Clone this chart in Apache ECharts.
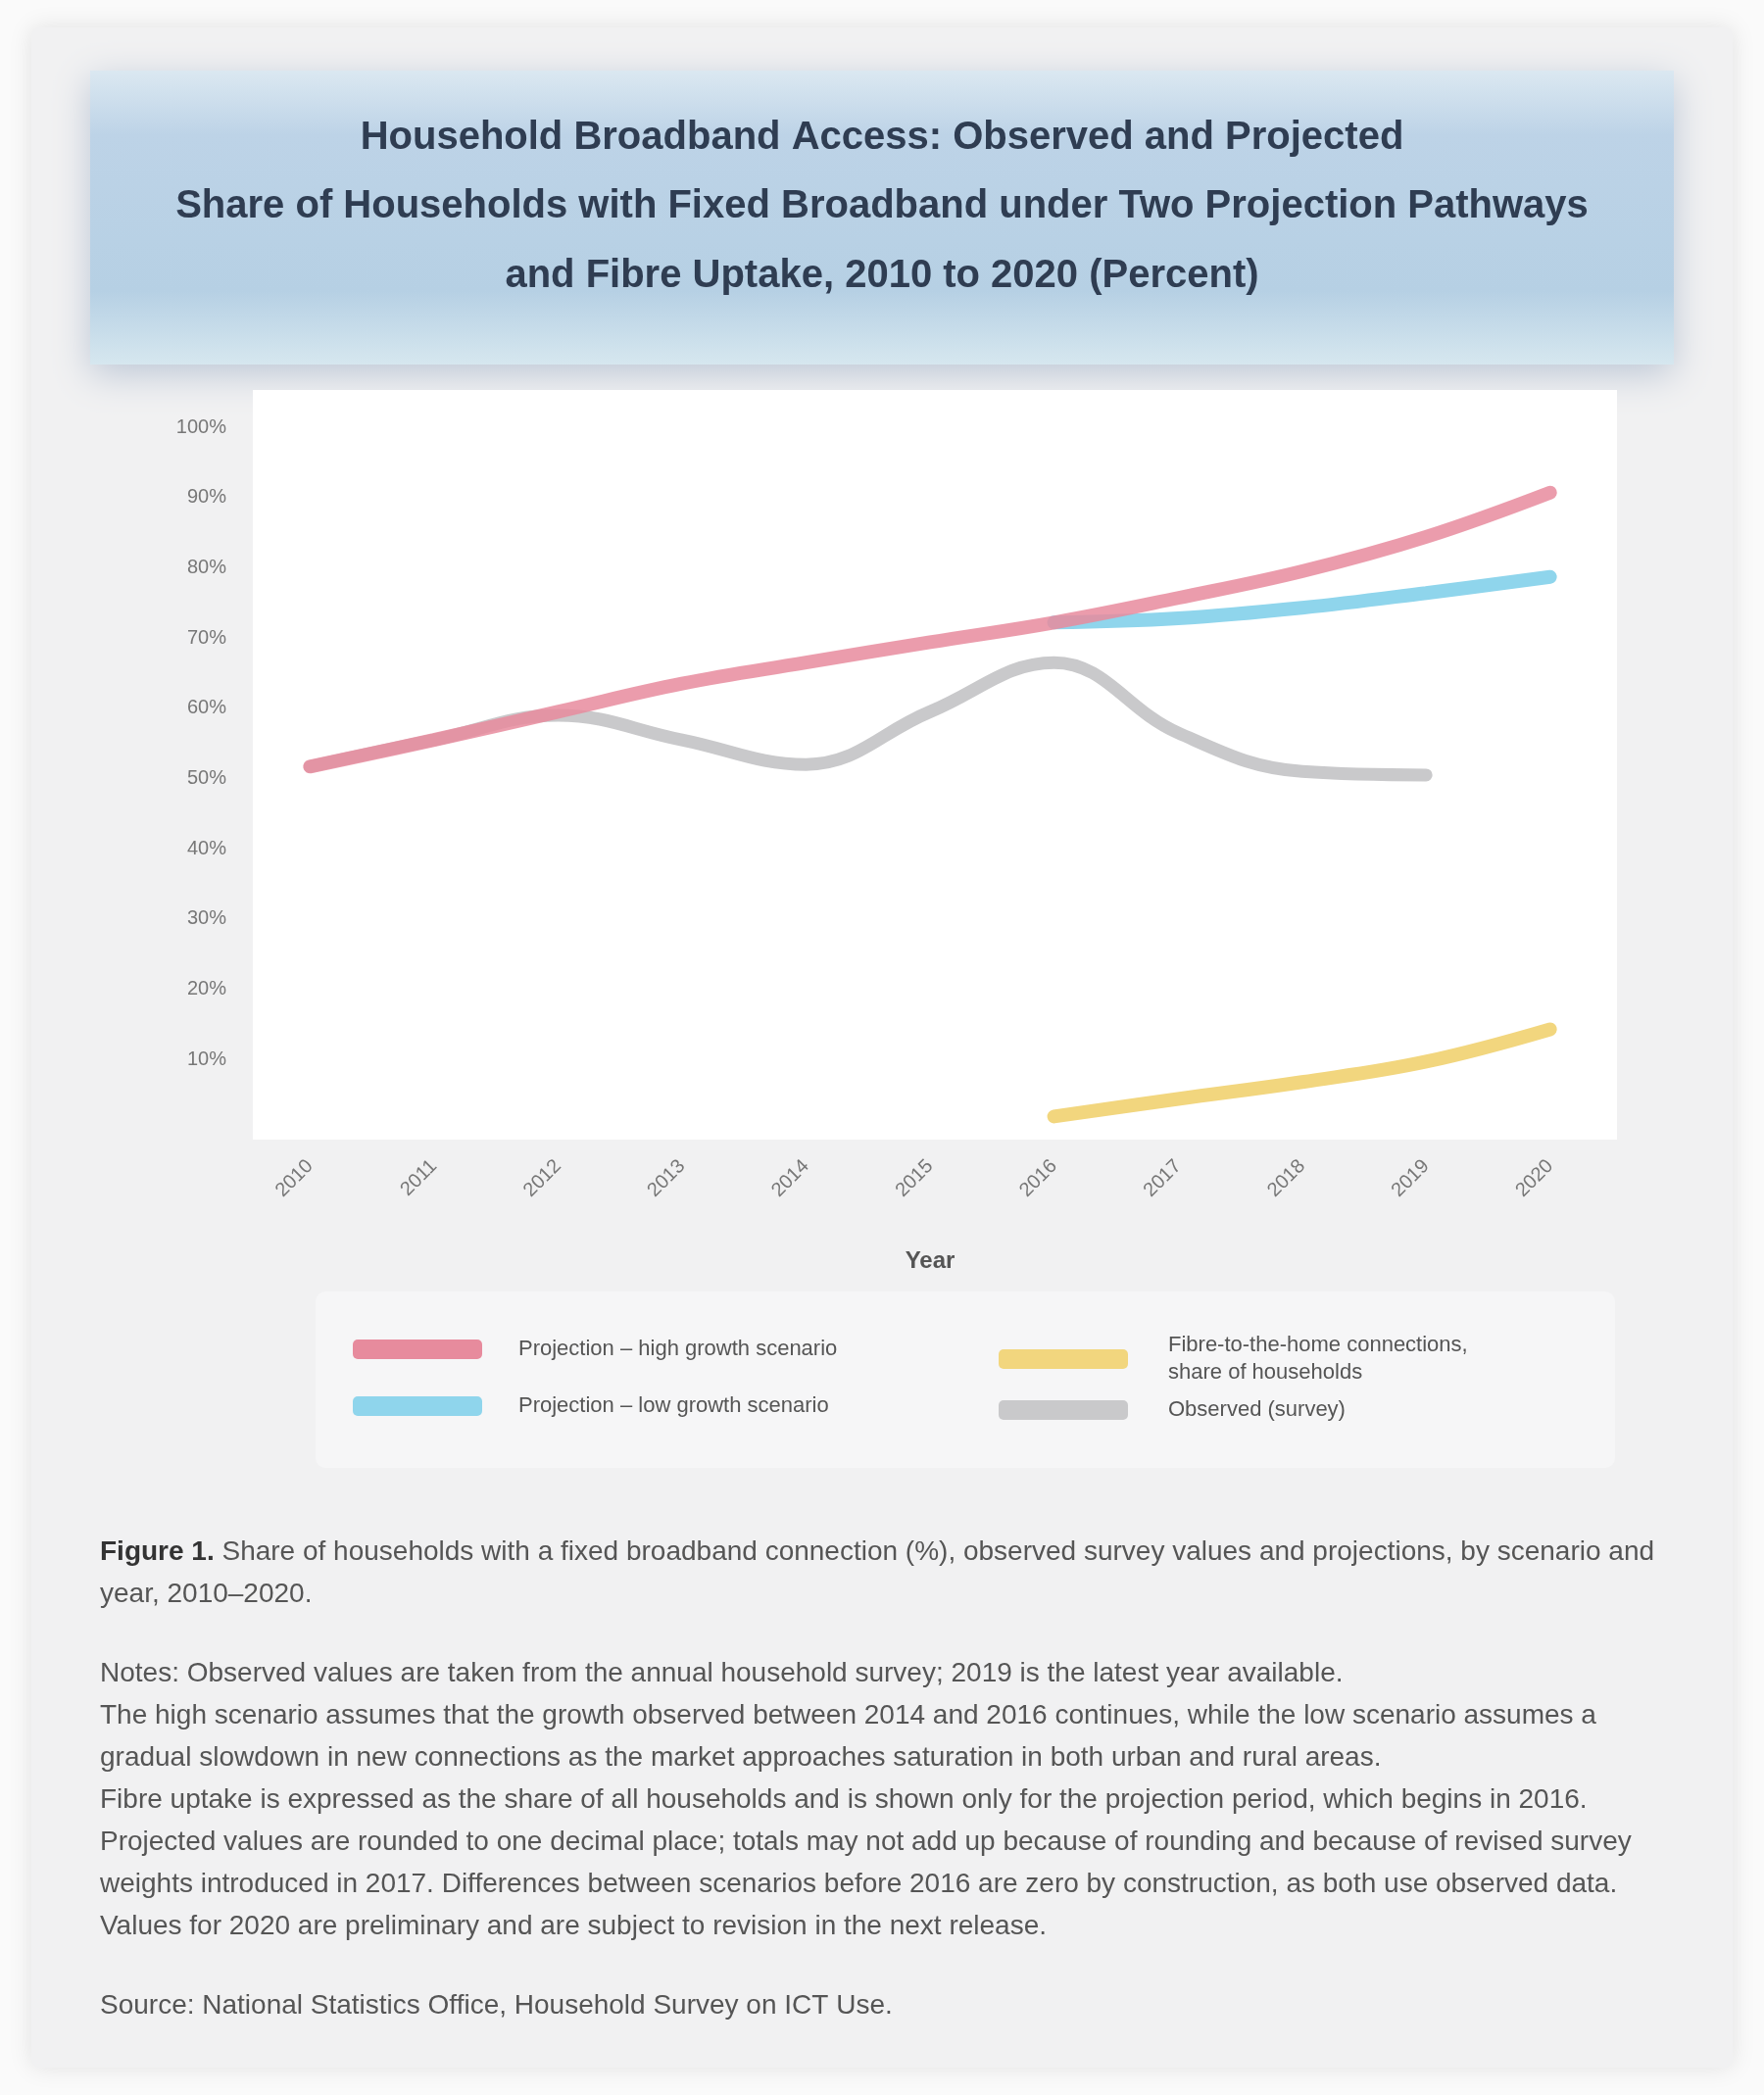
<!DOCTYPE html>
<html>
<head>
<meta charset="utf-8">
<script src="https://cdn.jsdelivr.net/npm/echarts/dist/echarts.min.js"></script>
<style>
html,body{margin:0;padding:0;background:#fafafa;}
#chart{width:1800px;height:2138px;}
</style>
</head>
<body>
<div id="chart"></div>
<script>
// ---- data ----
const years = ['2010','2011','2012','2013','2014','2015','2016','2017','2018','2019','2020'];
const highScenario = [51.7, 55.5, 59.5, 63.5, 66.5, 69.4, 72.2, 75.7, 79.5, 84.4, 90.7];
const lowScenario  = [null, null, null, null, null, null, 72.2, 72.8, 74.3, 76.4, 78.7];
const fibreShare   = [null, null, null, null, null, null, 1.9, 4.4, 6.8, 9.7, 14.3];
const observed     = [51.7, 55.5, 59.0, 55.5, 52.0, 59.5, 66.5, 56.5, 51.0, 50.5, null];
const yTicks = { min: 0, max: 100, interval: 10 };

const seriesNames = [
  'Projection – high growth scenario',
  'Projection – low growth scenario',
  'Fibre-to-the-home connections,\nshare of households',
  'Observed (survey)'
];

const titleLines = [
  'Household Broadband Access: Observed and Projected',
  'Share of Households with Fixed Broadband under Two Projection Pathways',
  'and Fibre Uptake, 2010 to 2020 (Percent)'
];

const noteLines = [
  ['Figure 1.', ' Share of households with a fixed broadband connection (%), observed survey values and projections, by scenario and'],
  ['', 'year, 2010–2020.'],
  null,
  ['', 'Notes: Observed values are taken from the annual household survey; 2019 is the latest year available.'],
  ['', 'The high scenario assumes that the growth observed between 2014 and 2016 continues, while the low scenario assumes a'],
  ['', 'gradual slowdown in new connections as the market approaches saturation in both urban and rural areas.'],
  ['', 'Fibre uptake is expressed as the share of all households and is shown only for the projection period, which begins in 2016.'],
  ['', 'Projected values are rounded to one decimal place; totals may not add up because of rounding and because of revised survey'],
  ['', 'weights introduced in 2017. Differences between scenarios before 2016 are zero by construction, as both use observed data.'],
  ['', 'Values for 2020 are preliminary and are subject to revision in the next release.'],
  null,
  ['', 'Source: National Statistics Office, Household Survey on ICT Use.']
];

const colors = {
  high: '#e78b9d',
  low: '#8fd5ec',
  fibre: '#f2d67e',
  observed: '#c9c9cb'
};

// ---- build graphics ----
const FONT = '"Liberation Sans", Arial, sans-serif';
const graphics = [];
graphics.push({
  type: 'rect', z: -20,
  shape: { x: 32, y: 28, width: 1736, height: 2082, r: 8 },
  style: { fill: '#f1f1f2', shadowBlur: 24, shadowColor: 'rgba(0,0,0,0.10)' }
});
graphics.push({
  type: 'rect', z: -10,
  shape: { x: 92, y: 72, width: 1616, height: 300 },
  style: {
    fill: new echarts.graphic.LinearGradient(0, 0, 0, 1, [
      { offset: 0, color: '#dbe8f1' },
      { offset: 0.22, color: '#bdd3e7' },
      { offset: 0.75, color: '#b6d0e4' },
      { offset: 1, color: '#d6e7ef' }
    ]),
    shadowBlur: 36, shadowColor: 'rgba(90,120,160,0.35)', shadowOffsetY: 10
  }
});
graphics.push({
  type: 'rect', z: -5,
  shape: { x: 258, y: 398, width: 1392, height: 765 },
  style: { fill: '#ffffff' }
});
graphics.push({
  type: 'rect', z: -5,
  shape: { x: 322, y: 1318, width: 1326, height: 180, r: 10 },
  style: { fill: '#f6f6f7' }
});
const titleY = [141, 211, 282];
titleLines.forEach((t, i) => {
  graphics.push({
    type: 'text', z: 5,
    style: {
      text: t, x: 900, y: titleY[i],
      textAlign: 'center', textVerticalAlign: 'middle',
      font: 'bold 40px ' + FONT, fill: '#2f3d52'
    }
  });
});
let ny = 1584;
noteLines.forEach((ln) => {
  if (ln === null) { ny += 38; return; }
  graphics.push({
    type: 'text', z: 5,
    style: {
      text: (ln[0] ? '{b|' + ln[0] + '}' : '') + '{n|' + ln[1] + '}',
      x: 102, y: ny, textVerticalAlign: 'middle',
      rich: {
        b: { fontFamily: FONT, fontSize: 28, fontWeight: 'bold', fill: '#333', color: '#333' },
        n: { fontFamily: FONT, fontSize: 28, fill: '#555', color: '#555' }
      }
    }
  });
  ny += 43;
});

const chart = echarts.init(document.getElementById('chart'));
chart.setOption({
  backgroundColor: '#fafafa',
  animation: false,
  graphic: graphics,
  grid: { left: 253, right: 155, top: 436, bottom: 985, containLabel: false },
  legend: [
    {
      orient: 'vertical', left: 355, top: 1358, itemWidth: 132, itemHeight: 20, itemGap: 30,
      icon: 'roundRect', data: [seriesNames[0], seriesNames[1]],
      textStyle: { fontFamily: FONT, fontSize: 22, color: '#555', lineHeight: 28, padding: [0, 0, 0, 32] }
    },
    {
      orient: 'vertical', left: 1014, top: 1354, itemWidth: 132, itemHeight: 20, itemGap: 10,
      icon: 'roundRect', data: [seriesNames[2], seriesNames[3]],
      textStyle: { fontFamily: FONT, fontSize: 22, color: '#555', lineHeight: 28, padding: [0, 0, 0, 36] }
    }
  ],
  xAxis: {
    type: 'category', data: years, boundaryGap: true,
    axisLine: { show: false }, axisTick: { show: false }, splitLine: { show: false },
    axisLabel: { rotate: 45, fontFamily: FONT, fontSize: 20, color: '#777', margin: 34 },
    name: 'Year', nameLocation: 'middle', nameGap: 122,
    nameTextStyle: { fontFamily: FONT, fontSize: 24, fontWeight: 'bold', color: '#555' }
  },
  yAxis: {
    type: 'value', min: yTicks.min, max: yTicks.max, interval: yTicks.interval,
    axisLine: { show: false }, axisTick: { show: false }, splitLine: { show: false },
    axisLabel: { showMinLabel: false, formatter: '{value}%', fontFamily: FONT, fontSize: 20, color: '#777', margin: 22 }
  },
  series: [
    {
      name: seriesNames[3], type: 'line', data: observed, smooth: 0.4, symbol: 'none', z: 2,
      color: colors.observed, lineStyle: { width: 13, color: colors.observed, cap: 'round' }
    },
    {
      name: seriesNames[2], type: 'line', data: fibreShare, smooth: 0.4, symbol: 'none', z: 3,
      color: colors.fibre, lineStyle: { width: 14, color: colors.fibre, cap: 'round' }
    },
    {
      name: seriesNames[1], type: 'line', data: lowScenario, smooth: 0.4, symbol: 'none', z: 3,
      color: colors.low, lineStyle: { width: 14, color: colors.low, cap: 'round' }
    },
    {
      name: seriesNames[0], type: 'line', data: highScenario, smooth: 0.4, symbol: 'none', z: 4,
      color: colors.high, lineStyle: { width: 14, color: colors.high, opacity: 0.85, cap: 'round' }
    }
  ]
});
</script>
</body>
</html>
